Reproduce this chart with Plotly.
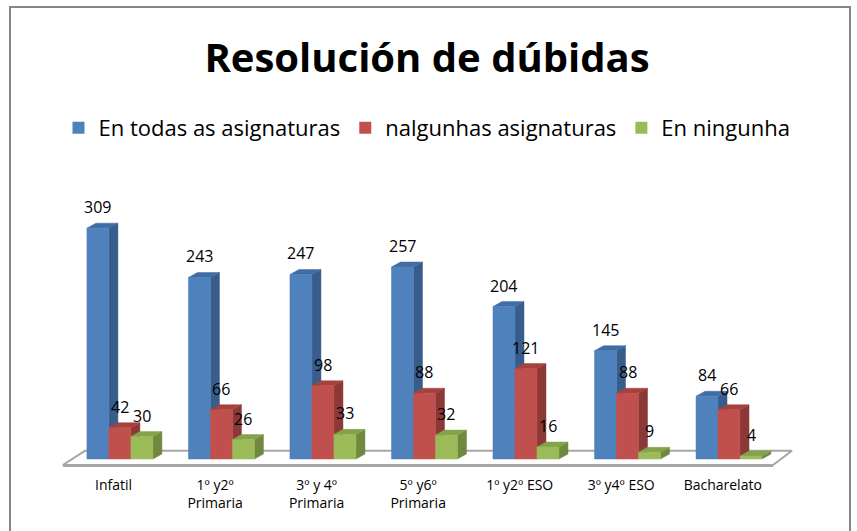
import plotly.graph_objects as go

categories = ["Infatil", "1º y2º<br>Primaria", "3º y 4º<br>Primaria", "5º y6º<br>Primaria",
              "1º y2º ESO", "3º y4º ESO", "Bacharelato"]
series_names = ["En todas as asignaturas", "nalgunhas asignaturas", "En ningunha"]
todas = [309, 243, 247, 257, 204, 145, 84]
nalgunhas = [42, 66, 98, 88, 121, 88, 66]
ningunha = [30, 26, 33, 32, 16, 9, 4]
values = [todas, nalgunhas, ningunha]

front_colors = ["#4F81BD", "#C0504D", "#9BBB59"]
side_colors = ["#385D8A", "#8C3836", "#71893F"]
top_colors = ["#416CA5", "#A5423F", "#84A24A"]

FONT = "Open Sans"
bar_w = 0.2167
offsets = [-0.2167, 0.0, 0.2167]
dx = 0.0887
dy = 6.7

fig = go.Figure()

# floor
fl_x = [-0.5616, -0.345, 6.62, 6.433, -0.5616]
fl_y = [-8, 11, 11, -8, -8]
fig.add_trace(go.Scatter(x=fl_x, y=fl_y, mode="lines", fill="toself", fillcolor="white",
                         line=dict(color="#A6A6A6", width=2), hoverinfo="skip", showlegend=False))
fig.add_trace(go.Scatter(x=[-0.5616, 6.433], y=[-8.5, -8.5], mode="lines",
                         line=dict(color="#A6A6A6", width=3), hoverinfo="skip", showlegend=False))

for s in range(3):
    fx, fy, sx, sy, tx, ty = [], [], [], [], [], []
    for k, v in enumerate(values[s]):
        x0 = k + offsets[s] - bar_w / 2
        x1 = k + offsets[s] + bar_w / 2
        fx += [x0, x1, x1, x0, x0, None]
        fy += [0, 0, v, v, 0, None]
        sx += [x1, x1 + dx, x1 + dx, x1, x1, None]
        sy += [0, dy, v + dy, v, 0, None]
        tx += [x0, x0 + dx, x1 + dx, x1, x0, None]
        ty += [v, v + dy, v + dy, v, v, None]
    for xs, ys, col in [(sx, sy, side_colors[s]), (tx, ty, top_colors[s]), (fx, fy, front_colors[s])]:
        fig.add_trace(go.Scatter(x=xs, y=ys, mode="lines", fill="toself", fillcolor=col,
                                 line=dict(color=col, width=0.5), hoverinfo="skip", showlegend=False))
    # legend entry
    fig.add_trace(go.Scatter(x=[None], y=[None], mode="markers", name=series_names[s],
                             marker=dict(symbol="square", size=12, color=front_colors[s])))
    for k, v in enumerate(values[s]):
        fig.add_annotation(x=k + offsets[s], y=v, text=str(v), showarrow=False, yshift=21,
                           font=dict(family=FONT, size=16, color="#000000"))

fig.update_layout(
    width=857, height=531,
    margin=dict(l=59, r=62, t=205, b=63),
    paper_bgcolor="white", plot_bgcolor="white",
    title=dict(text="<b>Resolución de dúbidas</b>", x=0.5, xref="paper", xanchor="center",
               y=1 - 58 / 531, yref="container", yanchor="middle",
               font=dict(family=FONT, size=40, color="#000000")),
    legend=dict(orientation="h", x=0.5, xanchor="center", y=(468 - 128) / 263, yanchor="middle",
                font=dict(family=FONT, size=22, color="#000000"), itemwidth=30),
    xaxis=dict(range=[-0.6, 6.65], tickvals=[k - 0.062 for k in range(len(categories))],
               ticktext=categories, showgrid=False, zeroline=False, showline=False, ticks="",
               tickfont=dict(family=FONT, size=14, color="#000000"), ticklabelstandoff=7,
               fixedrange=True),
    yaxis=dict(range=[-12, 340], visible=False, showgrid=False, zeroline=False, fixedrange=True),
    shapes=[dict(type="rect", xref="paper", yref="paper", x0=(10 - 59) / 736, x1=(850 - 59) / 736,
                 y0=(468 - 545) / 263, y1=(468 - 7) / 263, line=dict(color="#868686", width=2),
                 fillcolor="rgba(0,0,0,0)", layer="below")],
)

fig.write_html("out.html", config={"displayModeBar": False},
               post_script="document.body.style.margin='0';document.body.style.overflow='hidden';")
